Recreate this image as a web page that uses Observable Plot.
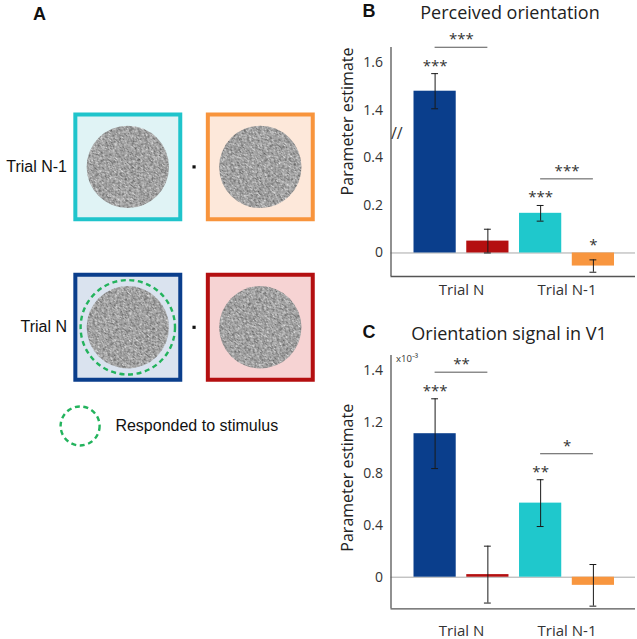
<!DOCTYPE html>
<html><head><meta charset="utf-8">
<script src="https://cdn.jsdelivr.net/npm/d3@7"></script>
<script src="https://cdn.jsdelivr.net/npm/@observablehq/plot@0.6"></script>
<style>
body{margin:0;background:#fff}
#fig{position:relative;width:637px;height:639px;overflow:hidden;background:#fff}
.abs{position:absolute}
.abs svg{display:block}
.plab{font:bold 18px "Liberation Sans",Arial,sans-serif;line-height:1;color:#111;white-space:nowrap}
.title{font:18px "Open Sans",sans-serif;line-height:1;color:#222;white-space:nowrap;transform:translateX(-50%)}
</style></head><body><div id="fig"></div><script>
// ---------- Panel A: stimulus schematic ----------
const stimulusRows = ["Trial N-1", "Trial N"];
const stimRow = [0, 0, 1, 1];
const stimCol = [0, 1, 0, 1];
const stimStroke = ["#1fc4cb", "#f8943c", "#0a3e8c", "#b40f10"];
const stimFill = ["#e0f3f5", "#fde8da", "#dae3ef", "#f6d3d3"];
const stimResponded = [false, false, true, false];
const fixationRow = [0, 1];
const fixationCol = [0.5, 0.5];
const legendLabel = "Responded to stimulus";
const legendCol = -0.36;
const legendRow = 1.615;

// ---------- Bars (shared) ----------
const barKey = ["Trial N responded", "Trial N other", "Trial N-1 responded", "Trial N-1 other"];
const barPos = [0, 1, 2, 3];
const barColor = ["#0a3e8c", "#b40f10", "#1fc8cc", "#f8963f"];
const groupLabels = ["Trial N", "Trial N-1"];
const groupPos = [0.5, 2.5];
const pairLeft = [0, 2];
const pairRight = [1, 3];

// ---------- Panel B: Perceived orientation ----------
const perceivedMean = [1.481, 0.05, 0.167, -0.055];
const perceivedErr = [0.074, 0.05, 0.033, 0.026];
const perceivedStars = ["***", "", "***", "*"];
const perceivedPairLevel = [1.666, 0.312];
const perceivedPairStars = ["***", "***"];
const perceivedTicks = [0, 0.2, 0.4, 1.4, 1.6];
const perceivedTickLabels = ["0", "0.2", "0.4", "1.4", "1.6"];
const perceivedBreakFrom = 1.0;   // values above this are shifted down
const perceivedBreakGap = 0.8;    // by this amount (axis break)

// ---------- Panel C: Orientation signal in V1 (x10^-3) ----------
const v1Mean = [1.11, 0.02, 0.573, -0.063];
const v1Err = [0.27, 0.22, 0.181, 0.161];
const v1Stars = ["***", "", "**", ""];
const v1PairLevel = [1.586, 0.955];
const v1PairStars = ["**", "*"];
const v1Ticks = [0, 0.4, 0.8, 1.2, 1.6];
const v1TickLabels = ["0", "0.4", "0.8", "1.2", "1.4"];

const fig = document.getElementById("fig");
function place(el, left, top) {
  const d = document.createElement("div");
  d.className = "abs"; d.style.left = left + "px"; d.style.top = top + "px";
  d.appendChild(el); fig.appendChild(d); return d;
}
function label(text, cls, left, top) {
  const d = document.createElement("div");
  d.className = "abs " + cls; d.textContent = text;
  d.style.left = left + "px"; d.style.top = top + "px";
  fig.appendChild(d);
}

// ----- Panel A -----
const stim = stimRow.map((r, i) => ({row: r, col: stimCol[i], stroke: stimStroke[i], fill: stimFill[i], responded: stimResponded[i]}));
const fixation = fixationRow.map((r, i) => ({row: r, col: fixationCol[i]}));
const legend = [{row: legendRow, col: legendCol, text: legendLabel}];
const green = "#23b35d";
const svgA = Plot.plot({
  width: 330, height: 470, marginLeft: 70, marginRight: 0, marginTop: 0, marginBottom: 0,
  x: {domain: [0, 1], range: [127.3, 259.8], axis: null},
  y: {domain: [0, 1], range: [166.4, 326.8]},
  color: {type: "identity"},
  style: {fontFamily: '"Liberation Sans", Arial, sans-serif', color: "#111", background: "white"},
  marks: [
    Plot.dot(stim, {x: "col", y: "row", symbol: "square", r: 59.2, fill: "fill", stroke: "stroke", strokeWidth: 4}),
    Plot.dot(stim, {x: "col", y: "row", r: 41.2, fill: "url(#noiseFill)", stroke: "none"}),
    Plot.dot(stim.filter(d => d.responded), {x: "col", y: "row", r: 47.2, fill: "none", stroke: green, strokeWidth: 2.4, strokeDasharray: "5,3.6"}),
    Plot.dot(fixation, {x: "col", y: "row", symbol: "square", r: 1.8, fill: "#111", stroke: "none"}),
    Plot.dot(legend, {x: "col", y: "row", r: 19.5, fill: "none", stroke: green, strokeWidth: 2.4, strokeDasharray: "5,3.6"}),
    Plot.text(legend, {x: "col", y: "row", text: "text", dx: 35.3, textAnchor: "start", fontSize: 16, fill: "#111"}),
    Plot.axisY({ticks: [0, 1], tickFormat: d => stimulusRows[d], tickSize: 0, tickPadding: 3.5, fontSize: 16, label: null})
  ]
});
const defs = document.createElementNS("http://www.w3.org/2000/svg", "defs");
defs.innerHTML = `
<filter id="grain" x="0" y="0" width="100%" height="100%" color-interpolation-filters="sRGB">
  <feTurbulence type="fractalNoise" baseFrequency="0.4 1.2" numOctaves="2" seed="4" stitchTiles="stitch"/>
  <feColorMatrix type="matrix" values="0.8 0 0 0 0.23  0.8 0 0 0 0.23  0.8 0 0 0 0.23  0 0 0 0 1"/>
</filter>
<pattern id="noiseFill" patternUnits="userSpaceOnUse" width="120" height="120" patternTransform="rotate(40)">
  <rect width="120" height="120" fill="#a0a0a0" filter="url(#grain)"/>
</pattern>`;
svgA.insertBefore(defs, svgA.firstChild);
place(svgA, 0, 0);

// ----- Bar charts -----
const xDomain = [-0.836, 3.798];
function makeRows(mean, err, stars) {
  return barKey.map((k, i) => ({key: k, pos: barPos[i], mean: mean[i], lo: mean[i] - err[i], hi: mean[i] + err[i], stars: stars[i]}));
}
function makePairs(levels, stars) {
  return pairLeft.map((a, i) => ({x1: barPos[a], x2: barPos[pairRight[i]], level: levels[i], stars: stars[i]}));
}
function barChart({rows, pairs, tf, yDomain, ticks, tickLabels, height, marginTop, marginBottom, xTickPadding, labelDy, extra}) {
  const labelOf = new Map(ticks.map((t, i) => [tf(t), tickLabels[i]]));
  const ink = "#1a1a1a";
  return Plot.plot({
    width: 307, height, marginLeft: 60.5, marginRight: 2, marginTop, marginBottom,
    x: {domain: xDomain},
    y: {domain: yDomain},
    color: {domain: barKey, range: barColor},
    style: {fontFamily: '"Open Sans", sans-serif', fontSize: "14px", color: "#333", background: "white"},
    marks: [
      Plot.ruleY([0], {stroke: "#a8a8a8", strokeWidth: 1}),
      Plot.rect(rows, {x1: d => d.pos - 0.4, x2: d => d.pos + 0.4, y1: 0, y2: d => tf(d.mean), fill: "key"}),
      Plot.ruleX(rows, {x: "pos", y1: d => tf(d.lo), y2: d => tf(d.hi), stroke: ink, strokeWidth: 1}),
      Plot.ruleY(rows, {y: d => tf(d.lo), x1: d => d.pos - 0.065, x2: d => d.pos + 0.065, stroke: ink, strokeWidth: 1}),
      Plot.ruleY(rows, {y: d => tf(d.hi), x1: d => d.pos - 0.065, x2: d => d.pos + 0.065, stroke: ink, strokeWidth: 1}),
      Plot.text(rows.filter(d => d.stars), {x: "pos", y: d => tf(Math.max(d.hi, 0)), text: "stars", lineAnchor: "bottom", dy: -3, fontSize: 15, fill: "#333"}),
      Plot.ruleY(pairs, {y: d => tf(d.level), x1: "x1", x2: "x2", stroke: "#555", strokeWidth: 1}),
      Plot.text(pairs, {x: d => (d.x1 + d.x2) / 2, y: d => tf(d.level), text: "stars", lineAnchor: "bottom", dy: -3, fontSize: 15, fill: "#333"}),
      Plot.ruleX([xDomain[0]], {stroke: "#555", strokeWidth: 1.3}),
      Plot.ruleY([yDomain[0]], {stroke: "#555", strokeWidth: 1.3}),
      Plot.axisY({ticks: ticks.map(tf), tickFormat: d => labelOf.get(d), tickSize: 0, tickPadding: 8, fontSize: 14, label: null}),
      Plot.axisX({ticks: groupPos, tickFormat: d => groupLabels[groupPos.indexOf(d)], tickSize: 0, tickPadding: xTickPadding, fontSize: 15, label: null}),
      Plot.text(["Parameter estimate"], {frameAnchor: "top-left", rotate: -90, textAnchor: "end", dx: -49, dy: labelDy, fontSize: 16, fill: "#222"}),
      ...extra
    ]
  });
}

const brk = v => v > perceivedBreakFrom ? v - perceivedBreakGap : v;
const breakMid = (brk(perceivedTicks[2]) + brk(perceivedTicks[3])) / 2;
const svgB = barChart({
  rows: makeRows(perceivedMean, perceivedErr, perceivedStars),
  pairs: makePairs(perceivedPairLevel, perceivedPairStars),
  tf: brk, yDomain: [-0.099, 0.865],
  ticks: perceivedTicks, tickLabels: perceivedTickLabels,
  height: 300, marginTop: 47, marginBottom: 24, xTickPadding: 8.3, labelDy: 0,
  extra: [Plot.text([{y: breakMid, t: "//"}], {y: "y", text: "t", frameAnchor: "left", dx: 0, fontSize: 16, fill: "#333"})]
});
place(svgB, 330, 0);

const svgC = barChart({
  rows: makeRows(v1Mean, v1Err, v1Stars),
  pairs: makePairs(v1PairLevel, v1PairStars),
  tf: v => v, yDomain: [-0.2445, 1.715],
  ticks: v1Ticks, tickLabels: v1TickLabels,
  height: 339, marginTop: 55, marginBottom: 30.7, xTickPadding: 16.5, labelDy: 48.3,
  extra: [Plot.text(["x10\u207B\u00B3"], {frameAnchor: "top-left", dx: 5, dy: 0, lineAnchor: "top", textAnchor: "start", fontSize: 9.5, fill: "#333"})]
});
place(svgC, 330, 300);

label("A", "plab", 33, 4.8);
label("B", "plab", 362.5, 2);
label("C", "plab", 362.5, 323);
label("Perceived orientation", "title", 510, 3.4);
label("Orientation signal in V1", "title", 509, 324);
</script></body></html>
